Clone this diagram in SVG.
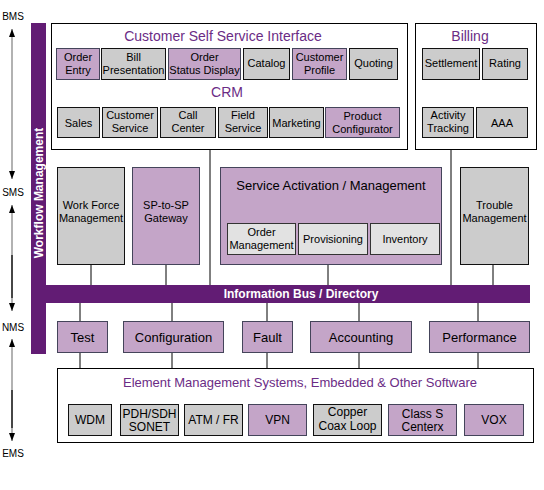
<svg xmlns="http://www.w3.org/2000/svg" width="544" height="490" viewBox="0 0 544 490">
<style>
text{font-family:"Liberation Sans",Arial,sans-serif;text-anchor:middle;fill:#000}
.s{font-size:11px}
.m{font-size:12px}
.l{font-size:13px}
.t{font-size:14px;fill:#6b2c85}
.te{font-size:13px;fill:#6b2c85}
.ax{font-size:10px}
.w{font-size:12px;font-weight:bold;fill:#fff}
.p{fill:#c4a5c8;stroke:#44445a;stroke-width:1}
.g{fill:#cccccc;stroke:#111;stroke-width:1}
.lg{fill:#e2e2e2;stroke:#333;stroke-width:1}
.f{fill:#fff;stroke:#000;stroke-width:1}
.bar{fill:#621c74}
.c{stroke:#000;stroke-width:1;fill:none}
.axl{stroke:#999;stroke-width:1.5}
.axd{stroke:#222;stroke-width:1.5}
</style>
<defs>
<marker id="ah" viewBox="0 0 8 6" refX="8" refY="3" markerWidth="8" markerHeight="6" orient="auto-start-reverse" markerUnits="userSpaceOnUse">
<path d="M0,0 L8,3 L0,6 z" fill="#000"/>
</marker>
</defs>
<rect width="544" height="490" fill="#fff"/>

<g id="axis">
<text class="ax" x="13" y="20">BMS</text>
<text class="ax" x="13" y="196">SMS</text>
<text class="ax" x="13" y="331">NMS</text>
<text class="ax" x="13" y="457">EMS</text>
<line class="axl" x1="12" y1="29" x2="12" y2="179" marker-start="url(#ah)" marker-end="url(#ah)"/>
<line class="axl" x1="12" y1="205" x2="12" y2="311" marker-start="url(#ah)" marker-end="url(#ah)"/>
<line class="axd" x1="12" y1="255" x2="12" y2="298"/>
<line class="axl" x1="12" y1="339" x2="12" y2="441" marker-start="url(#ah)" marker-end="url(#ah)"/>
<line class="axd" x1="12" y1="390" x2="12" y2="428"/>
</g>

<g id="connectors">
<line class="c" x1="210" y1="149" x2="210" y2="285"/>
<line class="c" x1="451" y1="149" x2="451" y2="285"/>
<line class="c" x1="91" y1="264" x2="91" y2="285"/>
<line class="c" x1="166" y1="264" x2="166" y2="285"/>
<line class="c" x1="328" y1="264" x2="328" y2="285"/>
<line class="c" x1="493" y1="264" x2="493" y2="285"/>
<line class="c" x1="80" y1="303" x2="80" y2="368"/>
<line class="c" x1="172" y1="303" x2="172" y2="368"/>
<line class="c" x1="267" y1="303" x2="267" y2="368"/>
<line class="c" x1="359" y1="303" x2="359" y2="368"/>
<line class="c" x1="478" y1="303" x2="478" y2="368"/>
</g>

<g id="workflow">
<rect class="bar" x="31" y="23" width="15" height="331"/>
<text class="w" transform="translate(43,193) rotate(-90)">Workflow Management</text>
</g>

<g id="infobus">
<rect class="bar" x="46" y="285" width="484" height="18"/>
<text class="w" x="301" y="298">Information Bus / Directory</text>
</g>

<g id="cssi">
<rect class="f" x="51.5" y="23.5" width="356" height="126"/>
<text class="t" x="223" y="41">Customer Self Service Interface</text>
<text class="t" x="227" y="97">CRM</text>
</g>
<g id="order-entry"><rect class="p" x="56.5" y="48.5" width="43" height="31"/><text class="s" x="78" y="61">Order</text><text class="s" x="78" y="74">Entry</text></g>
<g id="bill-presentation"><rect class="g" x="101.5" y="48.5" width="64" height="31"/><text class="s" x="133.5" y="61">Bill</text><text class="s" x="133.5" y="74">Presentation</text></g>
<g id="order-status"><rect class="p" x="168.5" y="48.5" width="72" height="31"/><text class="s" x="204.5" y="61">Order</text><text class="s" x="204.5" y="74">Status Display</text></g>
<g id="catalog"><rect class="g" x="243.5" y="48.5" width="46" height="31"/><text class="s" x="266.5" y="67">Catalog</text></g>
<g id="customer-profile"><rect class="p" x="292.5" y="48.5" width="54" height="31"/><text class="s" x="319.5" y="61">Customer</text><text class="s" x="319.5" y="74">Profile</text></g>
<g id="quoting"><rect class="g" x="349.5" y="48.5" width="48" height="31"/><text class="s" x="373.5" y="67">Quoting</text></g>

<g id="sales"><rect class="g" x="57.5" y="107.5" width="42" height="30"/><text class="s" x="78.5" y="127">Sales</text></g>
<g id="customer-service"><rect class="g" x="102.5" y="107.5" width="55" height="30"/><text class="s" x="130" y="119">Customer</text><text class="s" x="130" y="132">Service</text></g>
<g id="call-center"><rect class="g" x="160.5" y="107.5" width="55" height="30"/><text class="s" x="188" y="119">Call</text><text class="s" x="188" y="132">Center</text></g>
<g id="field-service"><rect class="g" x="218.5" y="107.5" width="49" height="30"/><text class="s" x="243" y="119">Field</text><text class="s" x="243" y="132">Service</text></g>
<g id="marketing"><rect class="g" x="269.5" y="107.5" width="54" height="30"/><text class="s" x="296.5" y="127">Marketing</text></g>
<g id="product-configurator"><rect class="p" x="325.5" y="107.5" width="74" height="30"/><text class="s" x="362.5" y="120">Product</text><text class="s" x="362.5" y="133">Configurator</text></g>

<g id="billing">
<rect class="f" x="415.5" y="23.5" width="121" height="126"/>
<text class="t" x="470" y="41">Billing</text>
</g>
<g id="settlement"><rect class="g" x="422.5" y="48.5" width="57" height="31"/><text class="s" x="451" y="67">Settlement</text></g>
<g id="rating"><rect class="g" x="482.5" y="48.5" width="45" height="31"/><text class="s" x="505" y="67">Rating</text></g>
<g id="activity-tracking"><rect class="g" x="422.5" y="107.5" width="51" height="30"/><text class="s" x="448" y="119">Activity</text><text class="s" x="448" y="132">Tracking</text></g>
<g id="aaa"><rect class="g" x="476.5" y="107.5" width="51" height="30"/><text class="s" x="502" y="127">AAA</text></g>

<g id="work-force"><rect class="g" x="57.5" y="167.5" width="67" height="97"/><text class="s" x="91" y="209">Work Force</text><text class="s" x="91" y="222">Management</text></g>
<g id="sp-gateway"><rect class="p" x="132.5" y="167.5" width="67" height="97"/><text class="s" x="166" y="209">SP-to-SP</text><text class="s" x="166" y="222">Gateway</text></g>
<g id="service-activation">
<rect class="p" x="220.5" y="167.5" width="221" height="97"/>
<text class="l" x="331" y="190">Service Activation / Management</text>
</g>
<g id="order-management"><rect class="lg" x="227.5" y="223.5" width="68" height="31"/><text class="s" x="261.5" y="236">Order</text><text class="s" x="261.5" y="249">Management</text></g>
<g id="provisioning"><rect class="lg" x="298.5" y="223.5" width="69" height="31"/><text class="s" x="333" y="243">Provisioning</text></g>
<g id="inventory"><rect class="lg" x="370.5" y="223.5" width="69" height="31"/><text class="s" x="405" y="243">Inventory</text></g>
<g id="trouble"><rect class="g" x="460.5" y="167.5" width="68" height="97"/><text class="s" x="494.5" y="209">Trouble</text><text class="s" x="494.5" y="222">Management</text></g>

<g id="test"><rect class="p" x="57.5" y="321.5" width="50" height="31"/><text class="l" x="82.5" y="342">Test</text></g>
<g id="configuration"><rect class="p" x="123.5" y="321.5" width="100" height="31"/><text class="l" x="173.5" y="342">Configuration</text></g>
<g id="fault"><rect class="p" x="242.5" y="321.5" width="50" height="31"/><text class="l" x="267.5" y="342">Fault</text></g>
<g id="accounting"><rect class="p" x="310.5" y="321.5" width="101" height="31"/><text class="l" x="361" y="342">Accounting</text></g>
<g id="performance"><rect class="p" x="429.5" y="321.5" width="100" height="31"/><text class="l" x="479.5" y="342">Performance</text></g>

<g id="ems">
<rect class="f" x="57.5" y="368.5" width="476" height="74"/>
<text class="te" x="300" y="387">Element Management Systems, Embedded &amp; Other Software</text>
</g>
<g id="wdm"><rect class="g" x="68.5" y="404.5" width="43" height="31"/><text class="m" x="90" y="424">WDM</text></g>
<g id="pdh"><rect class="g" x="120.5" y="404.5" width="58" height="31"/><text class="m" x="149.5" y="418">PDH/SDH</text><text class="m" x="149.5" y="431">SONET</text></g>
<g id="atm"><rect class="g" x="184.5" y="404.5" width="58" height="31"/><text class="m" x="213.5" y="424">ATM / FR</text></g>
<g id="vpn"><rect class="p" x="248.5" y="404.5" width="58" height="31"/><text class="m" x="277.5" y="424">VPN</text></g>
<g id="copper"><rect class="g" x="313.5" y="404.5" width="68" height="31"/><text class="m" x="347.5" y="416">Copper</text><text class="m" x="347.5" y="430">Coax Loop</text></g>
<g id="class-s"><rect class="p" x="388.5" y="404.5" width="68" height="31"/><text class="m" x="422.5" y="418">Class S</text><text class="m" x="422.5" y="431">Centerx</text></g>
<g id="vox"><rect class="p" x="464.5" y="404.5" width="59" height="31"/><text class="m" x="494" y="424">VOX</text></g>
</svg>
